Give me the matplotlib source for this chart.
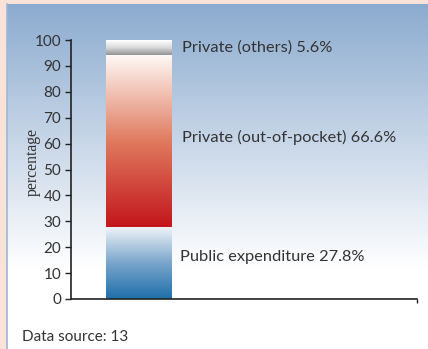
import numpy as np
import matplotlib
matplotlib.use("Agg")
import matplotlib.pyplot as plt
from matplotlib.colors import LinearSegmentedColormap

# data
segments = ["Public expenditure", "Private (out-of-pocket)", "Private (others)"]
shares = [27.8, 66.6, 5.6]
seg_colors = [["#1f6faa", "#7aa6cc", "#f2f5f9"],
              ["#c3161c", "#e07b5f", "#fffaf7"],
              ["#939393", "#d9d9d9", "#ffffff"]]
yticks = list(range(0, 101, 10))

W, H = 428, 349
fig = plt.figure(figsize=(W / 100, H / 100), dpi=100)
fig.patch.set_facecolor("#f9e3d9")

# background panel with vertical gradient
bg = fig.add_axes([7 / W, 0, 1 - 7 / W, 1 - 4 / H])
bg.set_axis_off()
rows = 400
t = np.linspace(0, 1, rows)  # 0 = top
top = np.array([0x8c, 0xab, 0xcf]) / 255
white = np.ones(3)
frac = np.clip(t / 0.77, 0, 1)[:, None]
grad = top * (1 - frac) + white * frac
bg.imshow(grad[:, None, :], aspect="auto", extent=[0, 1, 0, 1])
bg.set_xlim(0, 1)
bg.set_ylim(0, 1)
fig.add_artist(plt.Line2D([7 / W, 7 / W], [0, 1 - 4 / H], color="#9fb6d6", lw=1.2))

ax = fig.add_axes([71 / W, 1 - 299 / H, 346 / W, 259 / H])
ax.patch.set_alpha(0)
ax.set_xlim(0, 1)
ax.set_ylim(0, 100)

bar_x0, bar_w = 0.101, 0.188
bottoms = np.concatenate([[0], np.cumsum(shares)[:-1]])
for b, v, cols in zip(bottoms, shares, seg_colors):
    cmap = LinearSegmentedColormap.from_list("g", cols)
    g = np.linspace(0, 1, 256)[::-1][:, None]
    ax.imshow(g, cmap=cmap, aspect="auto", origin="upper",
              extent=[bar_x0, bar_x0 + bar_w, b, b + v], zorder=2)

tc = "#333333"
label_x = [0.315, 0.321, 0.321]
label_dy = [2.3, 1.1, 0.0]
for name, b, v, lx, dy in zip(segments, bottoms, shares, label_x, label_dy):
    ax.text(lx, b + v / 2 + dy, f"{name} {v}%", va="center", ha="left",
            fontsize=11.8, color=tc, family="Lato")

for s in ["top", "right"]:
    ax.spines[s].set_visible(False)
ax.spines["left"].set_color("#222222")
ax.spines["bottom"].set_color("#222222")
ax.spines["left"].set_linewidth(1.2)
ax.spines["bottom"].set_linewidth(1.2)
ax.set_yticks(yticks)
ax.set_yticklabels([str(v) for v in yticks], family="Lato", fontsize=11, color=tc)
ax.tick_params(axis="y", direction="out", length=4, width=1, color="#222222", pad=3)
ax.set_xticks([1.0])
ax.set_xticklabels([""])
ax.tick_params(axis="x", direction="out", length=3, width=1, color="#222222")
ax.set_ylabel("percentage", family="Liberation Serif", fontsize=11.3, color=tc,
              va="center")
ax.yaxis.set_label_coords(-0.11, 0.53)

fig.text(22 / W, 1 - 337 / H, "Data source: 13", family="Lato", fontsize=11,
         color=tc, va="center", ha="left")

fig.savefig("out.png", dpi=100)
